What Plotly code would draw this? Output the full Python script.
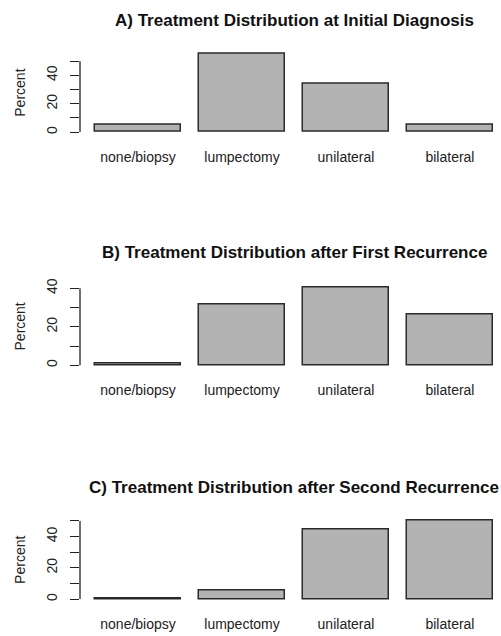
import plotly.graph_objects as go

# Treatment categories and percent of patients in each, per stage
categories = ["none/biopsy", "lumpectomy", "unilateral", "bilateral"]
initial_pct = [5.2, 55.3, 34.2, 5.3]
first_rec_pct = [1.0, 31.8, 40.6, 26.6]
second_rec_pct = [0.2, 5.6, 44.3, 50.2]

titles = [
    "A) Treatment Distribution at Initial Diagnosis",
    "B) Treatment Distribution after First Recurrence",
    "C) Treatment Distribution after Second Recurrence",
]
y_tick_vals = [[0, 10, 20, 30, 40, 50], [0, 10, 20, 30, 40], [0, 10, 20, 30, 40, 50]]
y_tick_text = [["0", "", "20", "", "40", ""], ["0", "", "20", "", "40"], ["0", "", "20", "", "40", ""]]

W, H = 501, 636
FONT = "Liberation Sans, Arial, Helvetica, sans-serif"

# Barplot geometry: bars of width 1 separated by 0.2
bar_width = 1.0
bar_space = 0.2
centers = [bar_space + bar_width / 2 + i * (bar_width + bar_space) for i in range(len(categories))]

# Panel layout in pixels: (plot top, plot bottom, y-range low, y-range high, title y)
panels = [
    (44.2, 130.9, -2.5, 58.0, 15),
    (281.1, 366.0, -1.7, 42.0, 249),
    (516.4, 601.9, -2.0, 52.2, 486),
]
series = [initial_pct, first_rec_pct, second_rec_pct]

fig = go.Figure()
left_margin = 80
plot_w = W - left_margin
x_range = [0.0303, 4.889]

annotations = []
shapes = []
for i, (vals, (top, bot, ylo, yhi, ty)) in enumerate(zip(series, panels)):
    n = "" if i == 0 else str(i + 1)
    fig.add_trace(go.Bar(
        x=centers, y=vals, width=bar_width,
        marker=dict(color="#b3b3b3", line=dict(color="#2a2a2a", width=1.5)),
        xaxis="x" + n, yaxis="y" + n, showlegend=False, hoverinfo="y",
    ))
    dom = [1 - bot / H, 1 - top / H]
    fig.layout["xaxis" + n] = dict(
        domain=[0, 1], anchor="y" + n, range=x_range, showgrid=False, zeroline=False,
        showline=False, tickvals=centers, ticktext=categories, ticks="outside",
        ticklen=9, tickcolor="rgba(0,0,0,0)", tickfont=dict(family=FONT, size=14, color="#222"),
        fixedrange=True,
    )
    fig.layout["yaxis" + n] = dict(
        domain=dom, anchor="x" + n, range=[ylo, yhi], showgrid=False, zeroline=False,
        showline=False, tickvals=y_tick_vals[i], ticktext=y_tick_text[i], ticks="outside",
        ticklen=9, tickwidth=1.3, tickcolor="#222", tickangle=-90, ticklabelstandoff=7,
        tickfont=dict(family=FONT, size=14, color="#222"), fixedrange=True,
    )
    # axis line only spans the tick range, as in base graphics
    shapes.append(dict(
        type="line", xref="x" + n + " domain", yref="y" + n,
        x0=0, x1=0, y0=0, y1=y_tick_vals[i][-1],
        line=dict(color="#222", width=1.3),
    ))
    annotations.append(dict(
        text="<b>" + titles[i] + "</b>", xref="paper", yref="paper",
        x=(294 - left_margin) / plot_w, y=1 - ty / H, xanchor="center", yanchor="middle",
        showarrow=False, font=dict(family=FONT, size=17, color="#111"),
    ))
    annotations.append(dict(
        text="Percent", xref="paper", yref="paper", textangle=-90,
        x=(20 - left_margin) / plot_w, y=1 - ((bot + top) / 2) / H,
        xanchor="center", yanchor="middle", showarrow=False,
        font=dict(family=FONT, size=14, color="#222"),
    ))

fig.update_layout(
    width=W, height=H, autosize=False,
    margin=dict(l=left_margin, r=0, t=0, b=0),
    paper_bgcolor="white", plot_bgcolor="white",
    bargap=0, annotations=annotations, shapes=shapes,
)

fig.write_html("out.html", config={"displayModeBar": False})
